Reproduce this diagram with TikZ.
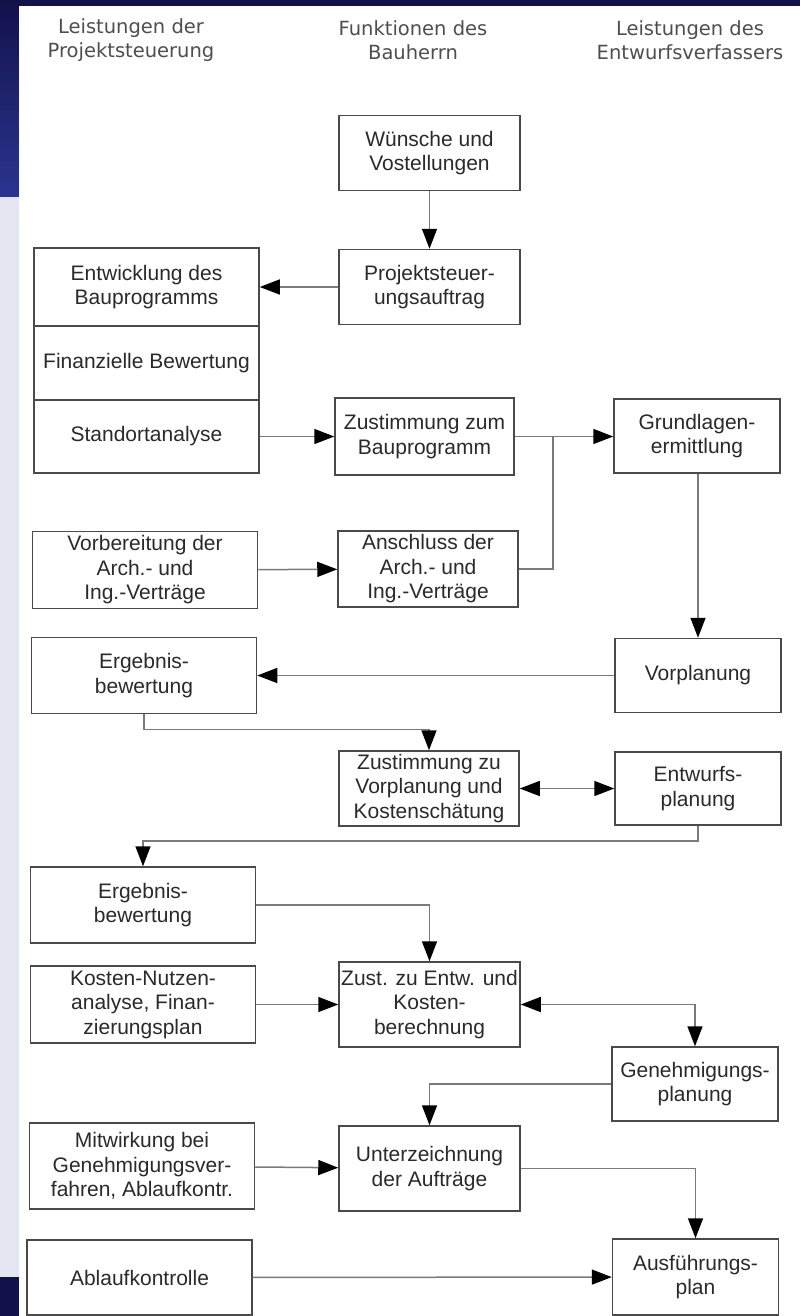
\documentclass[tikz,border=0pt]{standalone}
\usepackage{fontspec}
\setmainfont{Liberation Sans}
\newfontfamily\headfont{DejaVu Sans}
\usetikzlibrary{arrows.meta}
\definecolor{navy}{HTML}{12124A}
\definecolor{swirl}{HTML}{2B3590}
\definecolor{haze}{HTML}{E4E6F1}
\definecolor{frame}{HTML}{4A4A4A}
\definecolor{wire}{HTML}{7A7A7A}
\definecolor{ink}{HTML}{2A2A2A}
\definecolor{headink}{HTML}{4E4E4E}
\tikzset{
  box/.style={draw=frame, line width=1.5pt, fill=white, align=center, inner sep=1pt,
    text=ink, minimum height=75pt, font=\fontsize{21}{24.5}\selectfont},
  pbox/.style={box, minimum width=225pt},
  bbox/.style={box, minimum width=181pt},
  ebox/.style={box, minimum width=166pt},
  head/.style={align=center, text=headink, font=\headfont\fontsize{19.5}{24}\selectfont},
  arr/.style={draw=wire, line width=1.5pt, -{Triangle[length=20pt,width=15pt,color=black]}},
  darr/.style={draw=wire, line width=1.5pt,
    {Triangle[length=20pt,width=15pt,color=black]}-{Triangle[length=20pt,width=15pt,color=black]}}
}

\begin{document}
\begin{tikzpicture}[x=1pt,y=-1pt]
    \useasboundingbox (0,0) rectangle (800,1316);
    % slide background
    \fill[navy] (0,0) rectangle (800,1316);
    \shade[top color=navy, bottom color=swirl] (0,0) rectangle (19,197);
    \fill[haze] (0,197) rectangle (19,1277);
    \fill[white] (19,6) rectangle (800,1316);

    \node[head] (hps) at (131,40) {Leistungen der\\Projektsteuerung};
    \node[head] (hbh) at (413,40) {Funktionen des\\Bauherrn};
    \node[head] (hev) at (690,40) {Leistungen des\\Entwurfsverfassers};

    \node[bbox] (wish) at (429.5,153) {Wünsche und\\Vostellungen};
    \node[bbox] (auftrag) at (429.5,287) {Projektsteuer-\\ungsauftrag};
    \node[pbox, minimum height=78pt] (bauprog) at (146.5,287) {Entwicklung des\\Bauprogramms};
    \node[pbox, minimum height=74pt] (finanz) at (146.5,363) {Finanzielle Bewertung};
    \node[pbox, minimum height=73pt] (standort) at (146.5,436.5) {Standortanalyse};
    \node[bbox, minimum width=179pt, minimum height=77pt] (zustbp) at (424.5,436.5) {Zustimmung zum\\Bauprogramm};
    \node[ebox, minimum height=74pt] (grundl) at (697,436) {Grundlagen-\\ermittlung};
    \coordinate (jn) at (553,436.5);
    \node[pbox, minimum height=77pt] (vorber) at (145,570) {Vorbereitung der\\Arch.- und\\Ing.-Verträge};
    \node[bbox, minimum width=180pt, minimum height=76pt] (anschl) at (428,569) {Anschluss der\\Arch.- und\\Ing.-Verträge};
    \node[ebox, minimum height=74pt] (vorpl) at (698,675.5) {Vorplanung};
    \node[pbox, minimum height=76pt] (ergeb1) at (144,675.5) {Ergebnis-\\bewertung};
    \node[bbox, minimum width=180pt] (zustvp) at (429,788.5) {Zustimmung zu\\Vorplanung und\\Kostenschätung};
    \node[ebox, minimum height=73pt] (entw) at (698,788.5) {Entwurfs-\\planung};
    \node[pbox, minimum height=76pt] (ergeb2) at (143,905) {Ergebnis-\\bewertung};
    \node[bbox, minimum height=85pt] (zustent) at (429.5,1004.5) {Zust. zu Entw. und\\Kosten-\\berechnung};
    \node[pbox, minimum height=77pt] (knutzen) at (143,1004.5) {Kosten-Nutzen-\\analyse, Finan-\\zierungsplan};
    \node[ebox, minimum height=74pt] (genpl) at (695,1084) {Genehmigungs-\\planung};
    \node[bbox, minimum height=85pt] (unterz) at (429.5,1168.5) {Unterzeichnung\\der Aufträge};
    \node[pbox, minimum height=86pt] (mitw) at (142,1166) {Mitwirkung bei\\Genehmigungsver-\\fahren, Ablaufkontr.};
    \node[ebox, minimum height=76pt] (ausf) at (695.5,1277) {Ausführungs-\\plan};
    \node[pbox, minimum height=75pt] (ablauf) at (139.5,1277.5) {Ablaufkontrolle};

    \draw[arr] (wish) -- (auftrag);
    \draw[arr] (auftrag) -- (bauprog);
    \draw[arr] (standort) -- (zustbp);
    \draw[arr] (zustbp) -- (grundl.west |- zustbp.east);
    \draw[wire, line width=1.5pt] (anschl.east) -| (jn);
    \draw[arr] (vorber) -- (anschl);
    \draw[arr] (grundl.south -| vorpl.north) -- (vorpl.north);
    \draw[arr] (vorpl) -- (ergeb1);
    \draw[arr] (ergeb1.south) -- ++(0,15) -| (zustvp.north);
    \draw[darr] (zustvp) -- (entw);
    \draw[arr] (entw.south) -- ++(0,15) -| (ergeb2.north);
    \draw[arr] (ergeb2.east) -| (zustent.north);
    \draw[arr] (knutzen) -- (zustent);
    \draw[darr] (zustent.east) -| (genpl.north);
    \draw[arr] (genpl.west) -| (unterz.north);
    \draw[arr] (mitw) -- (unterz);
    \draw[arr] (unterz.east) -| (ausf.north);
    \draw[arr] (ablauf) -- (ausf);
\end{tikzpicture}
\end{document}
